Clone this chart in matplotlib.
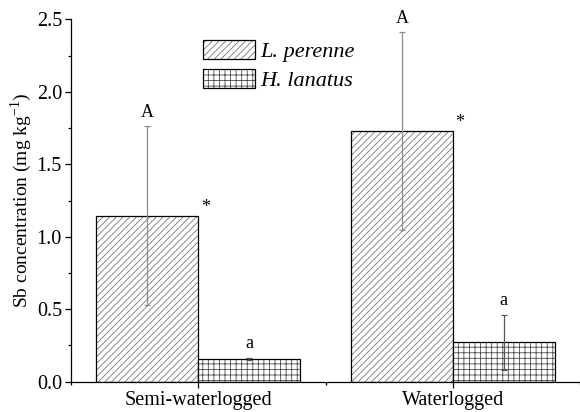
import numpy as np
import matplotlib
matplotlib.use("Agg")
import matplotlib.pyplot as plt
from matplotlib.ticker import MultipleLocator, FormatStrFormatter
from matplotlib.legend_handler import HandlerTuple

plt.rcParams['font.family'] = ['Liberation Serif', 'DejaVu Serif']
plt.rcParams['hatch.linewidth'] = 0.6

# Data
groups = ["Semi-waterlogged", "Waterlogged"]
species = ["L. perenne", "H. lanatus"]
perenne = [1.145, 1.73]
perenne_err = [0.617, 0.68]
lanatus = [0.159, 0.272]
lanatus_err = [0.007, 0.19]
perenne_letters = ["A", "A"]
lanatus_letters = ["a", "a"]

x = np.arange(1, len(groups) + 1)
w = 0.4

fig = plt.figure(figsize=(5.8, 4.12), dpi=100)
ax = fig.add_axes([0.1224, 0.0735, 0.878, 0.8795])

# hatch drawn in grey, outline drawn on top in black
h1 = ax.bar(x - w / 2, perenne, w, color="white", edgecolor="#777777",
            linewidth=0, hatch="/////")
o1 = ax.bar(x - w / 2, perenne, w, fill=False, edgecolor="black", linewidth=0.9)
h2 = ax.bar(x + w / 2, lanatus, w, color="white", edgecolor="#4a4a4a",
            linewidth=0, hatch="+++")
o2 = ax.bar(x + w / 2, lanatus, w, fill=False, edgecolor="black", linewidth=0.9)

ax.errorbar(x - w / 2, perenne, yerr=perenne_err, fmt="none", ecolor="#8c8c8c",
            elinewidth=0.9, capsize=2.5, capthick=0.9)
ax.errorbar(x + w / 2, lanatus, yerr=lanatus_err, fmt="none", ecolor="#555555",
            elinewidth=0.9, capsize=2.5, capthick=0.9)

# letters above error bars, stars at bar corner
for i in range(len(groups)):
    ax.annotate(perenne_letters[i], (x[i] - w / 2, perenne[i] + perenne_err[i]),
                xytext=(0, 4), textcoords="offset points", ha="center",
                va="bottom", fontsize=13)
    ax.annotate(lanatus_letters[i], (x[i] + w / 2, lanatus[i] + lanatus_err[i]),
                xytext=(0, 4), textcoords="offset points", ha="center",
                va="bottom", fontsize=13)
    ax.annotate("*", (x[i], perenne[i]), xytext=(5, 0),
                textcoords="offset points", ha="center", va="bottom",
                fontsize=13)

ax.set_xlim(0.5, 2.5)
ax.set_ylim(0, 2.5)
ax.set_xticks(x)
ax.set_xticklabels(groups, fontsize=14.5)
ax.xaxis.set_minor_locator(MultipleLocator(0.5))
ax.yaxis.set_major_locator(MultipleLocator(0.5))
ax.yaxis.set_minor_locator(MultipleLocator(0.25))
ax.yaxis.set_major_formatter(FormatStrFormatter("%.1f"))
ax.tick_params(axis="y", labelsize=14.5, pad=2)
ax.tick_params(axis="x", pad=2.5)
ax.tick_params(which="major", direction="out", length=4.5, width=0.9)
ax.tick_params(which="minor", direction="out", length=2.5, width=0.9)
ax.set_ylabel("Sb concentration (mg kg$^{\\mathregular{-1}}$)", fontsize=14, labelpad=2)

for side in ["top", "right"]:
    ax.spines[side].set_visible(False)
for side in ["left", "bottom"]:
    ax.spines[side].set_linewidth(0.9)

ax.legend([(h1[0], o1[0]), (h2[0], o2[0])], species,
          handler_map={tuple: HandlerTuple(ndivide=1, pad=0)},
          loc="upper left", bbox_to_anchor=(0.259, 0.943), frameon=False,
          borderpad=0, borderaxespad=0,
          prop={"style": "italic", "size": 16}, handlelength=2.36,
          handleheight=0.95, handletextpad=0.2, labelspacing=0.3)

plt.savefig("out.png", dpi=100)
